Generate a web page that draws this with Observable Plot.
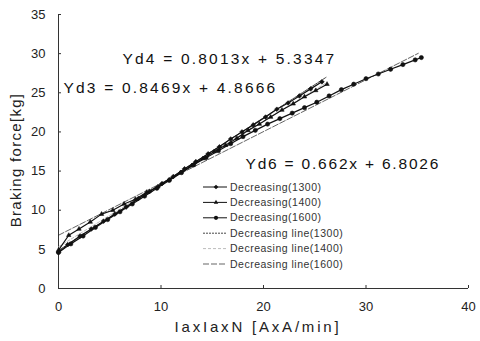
<!DOCTYPE html>
<html><head><meta charset="utf-8">
<script src="https://cdn.jsdelivr.net/npm/d3@7"></script>
<script src="https://cdn.jsdelivr.net/npm/@observablehq/plot@0.6"></script>
<style>body{margin:0;background:#fff} svg{display:block}</style>
</head><body><div id="chart"></div>
<script>
// ---- data ----
const xTicks = [0, 10, 20, 30, 40];
const yTicks = [0, 5, 10, 15, 20, 25, 30, 35];

const seriesNames = ["Decreasing(1300)", "Decreasing(1400)", "Decreasing(1600)"];
const x1300 = [0, 0.9, 2.1, 3.2, 4.4, 5.5, 6.6, 7.8, 8.9, 10.1, 11.2, 12.3, 13.4, 14.6, 15.7, 16.8, 17.9, 19.0, 20.2, 21.3, 22.4, 23.5, 24.6, 25.7];
const y1300 = [4.6, 5.6, 6.7, 7.6, 8.6, 9.5, 10.4, 11.5, 12.4, 13.4, 14.3, 15.3, 16.2, 17.2, 18.1, 19.1, 20.0, 20.9, 21.9, 22.9, 23.7, 24.6, 25.5, 26.4];
const x1400 = [0, 1.0, 2.0, 3.1, 4.2, 5.3, 6.4, 7.5, 8.6, 9.7, 10.8, 11.9, 13.0, 14.1, 15.2, 16.3, 17.4, 18.5, 19.6, 20.7, 21.8, 22.9, 24.0, 25.1, 26.2];
const y1400 = [4.9, 6.8, 7.6, 8.5, 9.5, 10.0, 10.8, 11.4, 12.3, 13.0, 13.9, 14.8, 15.7, 16.6, 17.5, 18.3, 19.2, 20.2, 21.0, 21.9, 22.8, 23.6, 24.5, 25.3, 26.1];
const x1600 = [0, 1.2, 2.4, 3.6, 4.8, 6.0, 7.2, 8.4, 9.6, 10.8, 12.0, 13.2, 14.4, 15.6, 16.8, 18.0, 19.2, 20.4, 21.6, 22.8, 24.0, 25.2, 26.4, 27.6, 28.8, 30.0, 31.2, 32.4, 33.6, 34.8, 35.4];
const y1600 = [4.6, 5.7, 6.7, 7.8, 8.8, 9.8, 10.8, 11.8, 12.8, 13.8, 14.8, 15.8, 16.7, 17.6, 18.5, 19.4, 20.2, 21.0, 21.7, 22.4, 23.1, 23.8, 24.6, 25.4, 26.1, 26.8, 27.4, 28.0, 28.6, 29.2, 29.5];

const fitNames = ["Decreasing line(1300)", "Decreasing line(1400)", "Decreasing line(1600)"];
const fitSlopes = [0.8469, 0.8013, 0.662];
const fitIntercepts = [4.8666, 5.3347, 6.8026];
const fitXEnd = [26.1, 26.0, 35.1];
const equations = ["Yd3 = 0.8469x + 4.8666", "Yd4 = 0.8013x + 5.3347", "Yd6 = 0.662x + 6.8026"];

const xLabel = "IaxIaxN [AxA/min]";
const yLabel = "Braking force[kg]";

// ---- build tables ----
const seriesX = [x1300, x1400, x1600];
const seriesY = [y1300, y1400, y1600];
const points = seriesNames.flatMap((s, i) => seriesX[i].map((x, j) => ({s, x, y: seriesY[i][j]})));
const fits = fitNames.flatMap((s, i) => [0, fitXEnd[i]].map(x => ({s, x, y: fitSlopes[i] * x + fitIntercepts[i]})));

const symbols = {"Decreasing(1300)": "diamond2", "Decreasing(1400)": "triangle2", "Decreasing(1600)": "circle"};
const fitStyle = {
  "Decreasing line(1300)": {stroke: "#333", dash: "2,1", w: 0.9},
  "Decreasing line(1400)": {stroke: "#aaa", dash: "3,2", w: 0.8},
  "Decreasing line(1600)": {stroke: "#222", dash: "6,2", w: 0.7}
};

const font = "Liberation Sans, Arial, sans-serif";

const plot = Plot.plot({
  width: 480, height: 341,
  marginLeft: 58, marginRight: 12, marginTop: 14, marginBottom: 53,
  style: {fontFamily: font, background: "#fff", color: "#222"},
  x: {domain: [0, 40]},
  y: {domain: [0, 35]},
  marks: [
    Plot.axisX(xTicks, {tickSize: -3, tickPadding: 16, fontSize: 13, label: null, stroke: "#333"}),
    Plot.axisY(yTicks, {tickSize: -3, tickPadding: 16, fontSize: 13, label: null, stroke: "#333"}),
    Plot.ruleY([0], {stroke: "#333", strokeWidth: 1}),
    Plot.ruleX([0], {stroke: "#333", strokeWidth: 1}),
    ...fitNames.map(n => Plot.line(fits.filter(d => d.s === n), {x: "x", y: "y", stroke: fitStyle[n].stroke, strokeDasharray: fitStyle[n].dash, strokeWidth: fitStyle[n].w})),
    Plot.line(points, {x: "x", y: "y", z: "s", stroke: "#111", strokeWidth: 1.2}),
    ...seriesNames.map(n => Plot.dot(points.filter(d => d.s === n), {x: "x", y: "y", r: 2.1, symbol: symbols[n], fill: "#111", stroke: "#111", strokeWidth: 0.6})),
    Plot.text([equations[1]], {frameAnchor: "top-left", dx: 64, dy: 38, fontSize: 15.5, textAnchor: "start", fill: "#111"}),
    Plot.text([equations[0]], {frameAnchor: "top-left", dx: 5, dy: 67, fontSize: 15.5, textAnchor: "start", fill: "#111"}),
    Plot.text([equations[2]], {frameAnchor: "top-left", dx: 187, dy: 143, fontSize: 15.5, textAnchor: "start", fill: "#111"})
  ]
});

const svg = d3.select(plot);
// wider letter spacing of the equation labels
svg.selectAll("text").filter(function() { return this.textContent.startsWith("Yd"); })
  .attr("letter-spacing", function() { return this.textContent.startsWith("Yd6") ? 1.8 : 2.2; });

// axis titles
svg.append("text").attr("x", 258).attr("y", 332).attr("text-anchor", "middle")
  .attr("font-family", font).attr("font-size", 15).attr("letter-spacing", 2.8).attr("fill", "#222").text(xLabel);
svg.append("text").attr("transform", "translate(21,160) rotate(-90)").attr("text-anchor", "middle")
  .attr("font-family", font).attr("font-size", 15).attr("letter-spacing", 1.3).attr("fill", "#222").text(yLabel);

// legend
const legendItems = [...seriesNames, ...fitNames];
const lg = svg.append("g").attr("font-family", font).attr("font-size", 10.5).attr("letter-spacing", 0.5)
  .attr("fill", "#333").attr("text-anchor", "start");
legendItems.forEach((name, i) => {
  const y = 187 + i * 15.4;
  const g = lg.append("g").attr("transform", `translate(203,${y})`);
  if (i < 3) {
    g.append("line").attr("x1", 0).attr("x2", 24).attr("stroke", "#111").attr("stroke-width", 1);
    g.append("path").attr("transform", "translate(13,0)").attr("d", d3.symbol(i === 0 ? d3.symbolDiamond2 : i === 1 ? d3.symbolTriangle2 : d3.symbolCircle, 14)())
      .attr("fill", "#111");
  } else {
    const st = fitStyle[name];
    g.append("line").attr("x1", 0).attr("x2", 24).attr("stroke", st.stroke).attr("stroke-width", st.w).attr("stroke-dasharray", st.dash);
  }
  g.append("text").attr("x", 27).attr("dy", "0.35em").attr("text-anchor", "start").text(name);
});

document.getElementById("chart").appendChild(plot);
</script>
</body></html>
